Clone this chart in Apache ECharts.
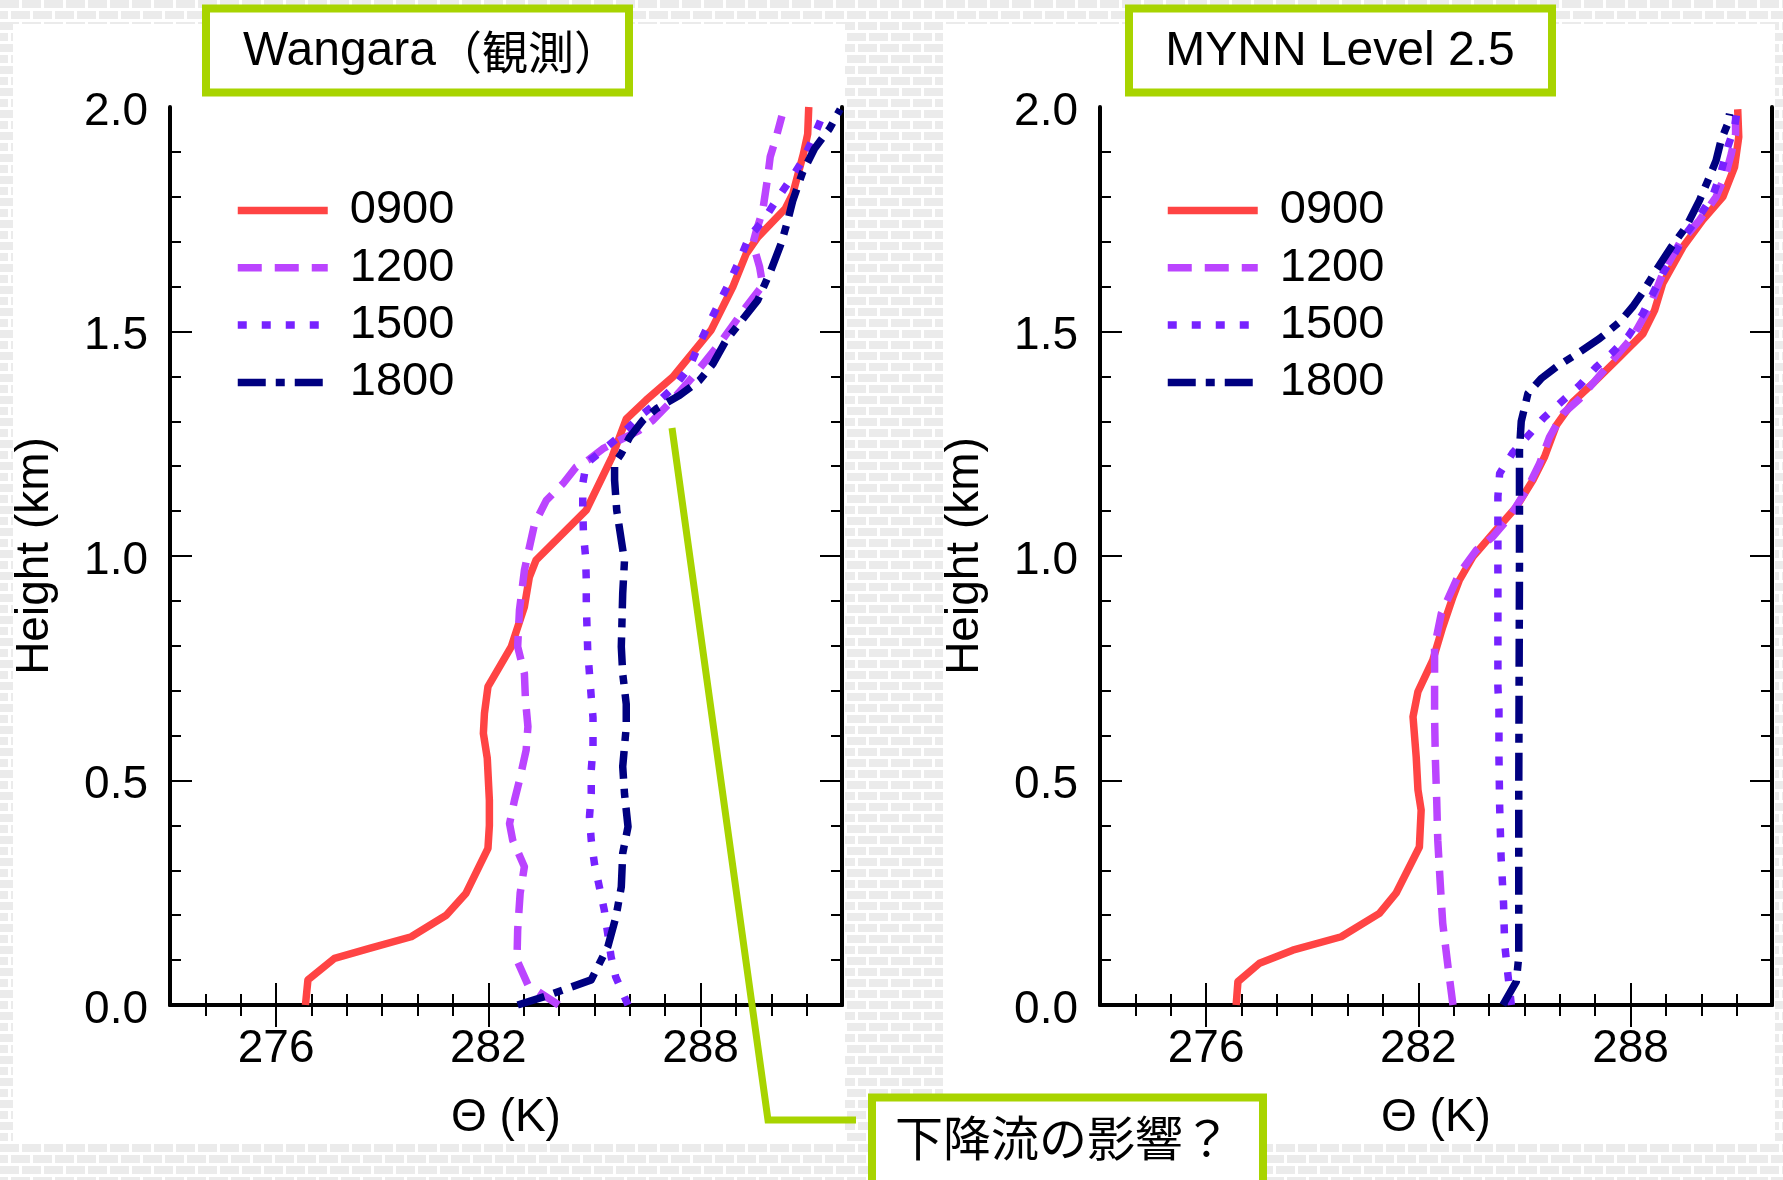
<!DOCTYPE html>
<html>
<head>
<meta charset="utf-8">
<title>Wangara / MYNN Level 2.5 温位プロファイル</title>
<script src="https://cdn.jsdelivr.net/npm/echarts@6/dist/echarts.min.js"></script>
<style>
  html, body { margin: 0; padding: 0; background: #fff; }
  #chart { width: 1783px; height: 1180px; }
</style>
</head>
<body>
<div id="chart"></div>
<script>
// Potential temperature profiles [theta (K), height (km)]
const wangara0900 = [[276.83,0.00],[276.90,0.056],[277.65,0.104],[278.64,0.126],[279.82,0.152],[280.81,0.200],[281.37,0.249],[281.99,0.349],[282.03,0.400],[282.03,0.456],[281.97,0.550],[281.86,0.605],[281.89,0.649],[281.99,0.709],[282.65,0.798],[283.02,0.887],[283.16,0.953],[283.35,0.991],[284.77,1.102],[285.50,1.221],[285.90,1.305],[286.46,1.347],[287.22,1.399],[288.30,1.503],[288.91,1.599],[289.29,1.673],[289.62,1.710],[290.40,1.774],[290.61,1.807],[290.91,1.896],[291.03,1.940],[291.06,2.000]];
const wangara1200 = [[283.99,0.00],[283.12,0.045],[282.81,0.100],[282.83,0.167],[282.90,0.249],[283.02,0.308],[282.69,0.367],[282.60,0.404],[282.74,0.456],[282.88,0.500],[283.07,0.568],[283.12,0.620],[283.05,0.680],[283.02,0.738],[282.83,0.798],[282.88,0.879],[283.02,0.968],[283.12,1.005],[283.31,1.072],[283.64,1.124],[284.11,1.161],[284.48,1.198],[284.81,1.213],[285.24,1.239],[285.61,1.254],[286.27,1.280],[286.65,1.302],[287.12,1.340],[287.78,1.399],[288.54,1.473],[289.29,1.555],[289.76,1.603],[289.67,1.644],[289.48,1.696],[289.57,1.722],[289.76,1.770],[289.90,1.844],[289.97,1.889],[290.14,1.933],[290.30,1.980]];
const wangara1500 = [[285.95,0.00],[285.60,0.063],[285.47,0.108],[285.28,0.211],[285.14,0.263],[285.00,0.315],[284.91,0.367],[284.86,0.419],[284.91,0.471],[284.91,0.523],[284.96,0.575],[284.96,0.640],[284.91,0.686],[284.86,0.738],[284.81,0.790],[284.79,0.842],[284.77,0.894],[284.77,0.946],[284.75,0.998],[284.69,1.050],[284.67,1.106],[284.67,1.161],[284.77,1.206],[285.29,1.239],[285.80,1.273],[286.27,1.310],[286.79,1.343],[287.26,1.377],[287.69,1.421],[287.95,1.470],[288.25,1.519],[288.54,1.566],[288.82,1.610],[289.10,1.659],[289.38,1.711],[289.81,1.751],[290.14,1.792],[290.53,1.837],[290.89,1.881],[291.18,1.930],[291.50,1.990]];
const wangara1800 = [[282.83,0.00],[283.64,0.020],[284.91,0.056],[285.38,0.130],[285.61,0.197],[285.76,0.263],[285.80,0.338],[285.95,0.397],[285.85,0.471],[285.80,0.531],[285.90,0.620],[285.90,0.670],[285.80,0.738],[285.76,0.798],[285.78,0.857],[285.80,0.917],[285.85,0.990],[285.76,1.035],[285.63,1.102],[285.57,1.169],[285.57,1.206],[285.76,1.228],[285.99,1.264],[286.37,1.302],[286.75,1.328],[287.41,1.358],[287.97,1.391],[288.35,1.428],[288.72,1.480],[289.10,1.518],[289.62,1.570],[289.99,1.636],[290.28,1.696],[290.47,1.748],[290.61,1.792],[290.89,1.855],[291.22,1.907],[291.65,1.952],[291.95,1.995]];

const mynn0900 = [[276.85,0.00],[276.90,0.052],[277.51,0.093],[278.45,0.122],[279.82,0.152],[280.90,0.204],[281.37,0.249],[282.03,0.352],[282.08,0.434],[281.99,0.479],[281.94,0.553],[281.85,0.642],[281.99,0.698],[282.41,0.768],[282.69,0.842],[282.98,0.909],[283.16,0.946],[283.54,0.998],[284.11,1.050],[284.77,1.109],[285.24,1.169],[285.57,1.221],[285.90,1.291],[286.37,1.343],[286.93,1.384],[287.69,1.443],[288.35,1.495],[288.68,1.547],[288.91,1.607],[289.48,1.688],[290.04,1.748],[290.61,1.800],[290.94,1.866],[291.06,1.933],[291.03,1.995]];
const mynn1200 = [[282.98,0.00],[282.84,0.085],[282.69,0.182],[282.62,0.271],[282.55,0.367],[282.52,0.456],[282.48,0.553],[282.46,0.642],[282.46,0.798],[282.65,0.872],[283.16,0.961],[283.64,1.013],[284.11,1.043],[284.58,1.087],[285.05,1.146],[285.43,1.206],[285.71,1.265],[286.09,1.317],[286.56,1.350],[286.93,1.384],[288.06,1.488],[288.54,1.555],[288.91,1.629],[289.38,1.696],[289.95,1.748],[290.42,1.800],[290.70,1.852],[290.85,1.896],[290.97,1.940],[290.97,1.980]];
const mynn1500 = [[284.63,0.00],[284.53,0.070],[284.44,0.137],[284.41,0.226],[284.34,0.330],[284.30,0.441],[284.28,0.553],[284.28,0.657],[284.25,0.709],[284.25,1.132],[284.30,1.184],[284.67,1.230],[285.14,1.271],[285.55,1.308],[286.04,1.343],[286.56,1.380],[287.03,1.421],[287.50,1.454],[287.95,1.491],[288.35,1.540],[288.63,1.584],[288.91,1.629],[289.24,1.673],[289.57,1.718],[289.99,1.762],[290.33,1.803],[290.56,1.855],[290.75,1.911],[290.94,1.955],[291.00,1.985]];
const mynn1800 = [[284.39,0.00],[284.77,0.052],[284.84,0.108],[284.84,0.479],[284.86,0.976],[284.86,1.236],[284.91,1.300],[285.10,1.362],[285.47,1.395],[285.90,1.421],[286.56,1.454],[287.12,1.484],[287.69,1.521],[288.06,1.555],[288.35,1.588],[288.72,1.636],[289.15,1.688],[289.57,1.733],[289.95,1.792],[290.23,1.844],[290.42,1.881],[290.56,1.926],[290.75,1.963],[290.80,1.985]];

// Legend names (local time) and panel titles
const timeNames = ['0900', '1200', '1500', '1800'];
const noteText = '下降流の影響？';

// Axis ticks and labels
const thetaLabels = [276, 282, 288];
const thetaMinorTicks = [274, 275, 276, 277, 278, 279, 280, 281, 282, 283, 284, 285, 286, 287, 288, 289, 290, 291];
const heightLabels = [0, 0.5, 1.0, 1.5, 2.0];
const heightMajorTicks = [0.5, 1.0, 1.5];
const heightMinorTicks = [0.1, 0.2, 0.3, 0.4, 0.5, 0.6, 0.7, 0.8, 0.9, 1.0, 1.1, 1.2, 1.3, 1.4, 1.5, 1.6, 1.7, 1.8, 1.9];

const FONT = 'Liberation Sans, Arial, Helvetica, Noto Sans CJK JP, sans-serif';
const CJK = 'Noto Sans CJK JP, sans-serif';
const GREEN = '#a8d400';
const LINE_W = 7.5;
const lineStyles = [
  { color: '#ff4444', type: 'solid' },
  { color: '#bb44ff', type: [24, 13] },
  { color: '#7722ff', type: [9, 15] },
  { color: '#000080', type: [28, 10, 9, 10] }
];

// light brick texture used behind the panels
function brickPattern() {
  const c = document.createElement('canvas');
  c.width = 22; c.height = 22;
  const g = c.getContext('2d');
  g.fillStyle = '#ffffff'; g.fillRect(0, 0, 22, 22);
  g.fillStyle = '#ebebeb';
  g.fillRect(0, 0, 19, 8);
  g.fillRect(11, 11, 19, 8);
  g.fillRect(-11, 11, 19, 8);
  return c;
}

const grids = [
  { left: 170, top: 107, width: 672, height: 898 },
  { left: 1100, top: 107, width: 672, height: 898 }
];

const xAxes = [];
const yAxes = [];
grids.forEach((gr, gi) => {
  const frame = { show: true, lineStyle: { color: '#000', width: 4 } };
  const tickStyle = { color: '#000', width: 2 };
  // bottom: frame, minor ticks, labels, name
  xAxes.push({
    gridIndex: gi, type: 'value', min: 273, max: 292, position: 'bottom',
    axisLine: frame,
    axisTick: { show: true, inside: true, length: 11, lineStyle: tickStyle, customValues: thetaMinorTicks },
    axisLabel: { show: true, customValues: thetaLabels, fontSize: 46, fontFamily: FONT, color: '#000', margin: 21 },
    splitLine: { show: false },
    name: 'Θ (K)', nameLocation: 'middle', nameGap: 90,
    nameTextStyle: { fontSize: 46, fontFamily: FONT, color: '#000' }
  });
  // bottom: major ticks
  xAxes.push({
    gridIndex: gi, type: 'value', min: 273, max: 292, position: 'bottom',
    axisLine: { show: false },
    axisTick: { show: true, inside: true, length: 22, lineStyle: tickStyle, customValues: thetaLabels },
    axisLabel: { show: false }, splitLine: { show: false }
  });
  // top mirror: frame and ticks
  xAxes.push({
    gridIndex: gi, type: 'value', min: 273, max: 292, position: 'top',
    axisLine: frame,
    axisTick: { show: true, inside: true, length: 11, lineStyle: tickStyle, customValues: thetaMinorTicks },
    axisLabel: { show: false }, splitLine: { show: false }
  });
  xAxes.push({
    gridIndex: gi, type: 'value', min: 273, max: 292, position: 'top',
    axisLine: { show: false },
    axisTick: { show: true, inside: true, length: 22, lineStyle: tickStyle, customValues: thetaLabels },
    axisLabel: { show: false }, splitLine: { show: false }
  });
  // left: frame, minor ticks, labels, name
  yAxes.push({
    gridIndex: gi, type: 'value', min: 0, max: 2, position: 'left',
    axisLine: frame,
    axisTick: { show: true, inside: true, length: 11, lineStyle: tickStyle, customValues: heightMinorTicks },
    axisLabel: { show: true, customValues: heightLabels, fontSize: 46, fontFamily: FONT, color: '#000', margin: 22,
                 verticalAlign: 'top', lineHeight: 10, formatter: v => Number(v).toFixed(1) },
    splitLine: { show: false },
    name: 'Height (km)', nameLocation: 'middle', nameGap: 112,
    nameTextStyle: { fontSize: 46, fontFamily: FONT, color: '#000' }
  });
  yAxes.push({
    gridIndex: gi, type: 'value', min: 0, max: 2, position: 'left',
    axisLine: { show: false },
    axisTick: { show: true, inside: true, length: 22, lineStyle: tickStyle, customValues: heightMajorTicks },
    axisLabel: { show: false }, splitLine: { show: false }
  });
  // right mirror
  yAxes.push({
    gridIndex: gi, type: 'value', min: 0, max: 2, position: 'right',
    axisLine: frame,
    axisTick: { show: true, inside: true, length: 11, lineStyle: tickStyle, customValues: heightMinorTicks },
    axisLabel: { show: false }, splitLine: { show: false }
  });
  yAxes.push({
    gridIndex: gi, type: 'value', min: 0, max: 2, position: 'right',
    axisLine: { show: false },
    axisTick: { show: true, inside: true, length: 22, lineStyle: tickStyle, customValues: heightMajorTicks },
    axisLabel: { show: false }, splitLine: { show: false }
  });
});

const profileSets = [
  [wangara0900, wangara1200, wangara1500, wangara1800],
  [mynn0900, mynn1200, mynn1500, mynn1800]
];

const series = [];
profileSets.forEach((set, gi) => {
  set.forEach((data, k) => {
    series.push({
      type: 'line', name: timeNames[k],
      xAxisIndex: gi * 4, yAxisIndex: gi * 4,
      data: data, symbol: 'none', showSymbol: false, smooth: false,
      lineStyle: { width: LINE_W, color: lineStyles[k].color, type: lineStyles[k].type, cap: 'butt', join: 'round' },
      itemStyle: { color: lineStyles[k].color },
      emphasis: { disabled: true }, animation: false
    });
  });
});

// one legend inside each panel; line samples only
const legends = [234, 1164].map(left => ({
  orient: 'vertical', left: left, top: 187, padding: 0,
  data: timeNames, selectedMode: false,
  itemWidth: 90, itemHeight: 46, itemGap: 10.3,
  lineStyle: { width: LINE_W },
  itemStyle: { opacity: 0, borderWidth: 0 },
  textStyle: { fontSize: 47, fontFamily: FONT, color: '#000', lineHeight: 46, padding: [0, 0, 0, 17] }
}));

const graphic = [
  { type: 'rect', z: -20, silent: true, shape: { x: 0, y: 0, width: 1783, height: 1180 },
    style: { fill: { image: brickPattern(), repeat: 'repeat' } } },
  { type: 'rect', z: -10, silent: true, shape: { x: 13, y: 24, width: 832, height: 1118 }, style: { fill: '#fff' } },
  { type: 'rect', z: -10, silent: true, shape: { x: 943, y: 24, width: 832, height: 1118 }, style: { fill: '#fff' } },
  // panel titles
  { type: 'rect', z: 10, silent: true, shape: { x: 206, y: 8.5, width: 423, height: 84 },
    style: { fill: '#fff', stroke: GREEN, lineWidth: 8 } },
  { type: 'text', z: 11, silent: true, x: 243, y: 52,
    style: { text: '{a|Wangara}{b|（観測）}', align: 'left', verticalAlign: 'middle', fill: '#000',
             rich: { a: { fontSize: 48, fontFamily: FONT, fill: '#000' }, b: { fontSize: 46, fontFamily: CJK, fill: '#000' } } } },
  { type: 'rect', z: 10, silent: true, shape: { x: 1129, y: 8.5, width: 423, height: 84 },
    style: { fill: '#fff', stroke: GREEN, lineWidth: 8 } },
  { type: 'text', z: 11, silent: true, x: 1340, y: 52,
    style: { text: 'MYNN Level 2.5', font: '48px ' + FONT, fill: '#000', align: 'center', verticalAlign: 'middle' } },
  // callout
  { type: 'polyline', z: 100, silent: true, shape: { points: [[672, 428], [768, 1120], [856, 1120]] },
    style: { stroke: GREEN, lineWidth: 7, fill: null, lineJoin: 'miter' } },
  { type: 'rect', z: 100, silent: true, shape: { x: 872, y: 1097.5, width: 391, height: 110 },
    style: { fill: '#fff', stroke: GREEN, lineWidth: 8 } },
  { type: 'text', z: 101, silent: true, x: 1063, y: 1138,
    style: { text: noteText, font: '48px ' + CJK, fill: '#000', align: 'center', verticalAlign: 'middle' } }
];

const chart = echarts.init(document.getElementById('chart'), null, { renderer: 'canvas' });
chart.setOption({
  animation: false,
  backgroundColor: '#fff',
  grid: grids,
  xAxis: xAxes,
  yAxis: yAxes,
  legend: legends,
  series: series,
  graphic: graphic
});
</script>
</body>
</html>
